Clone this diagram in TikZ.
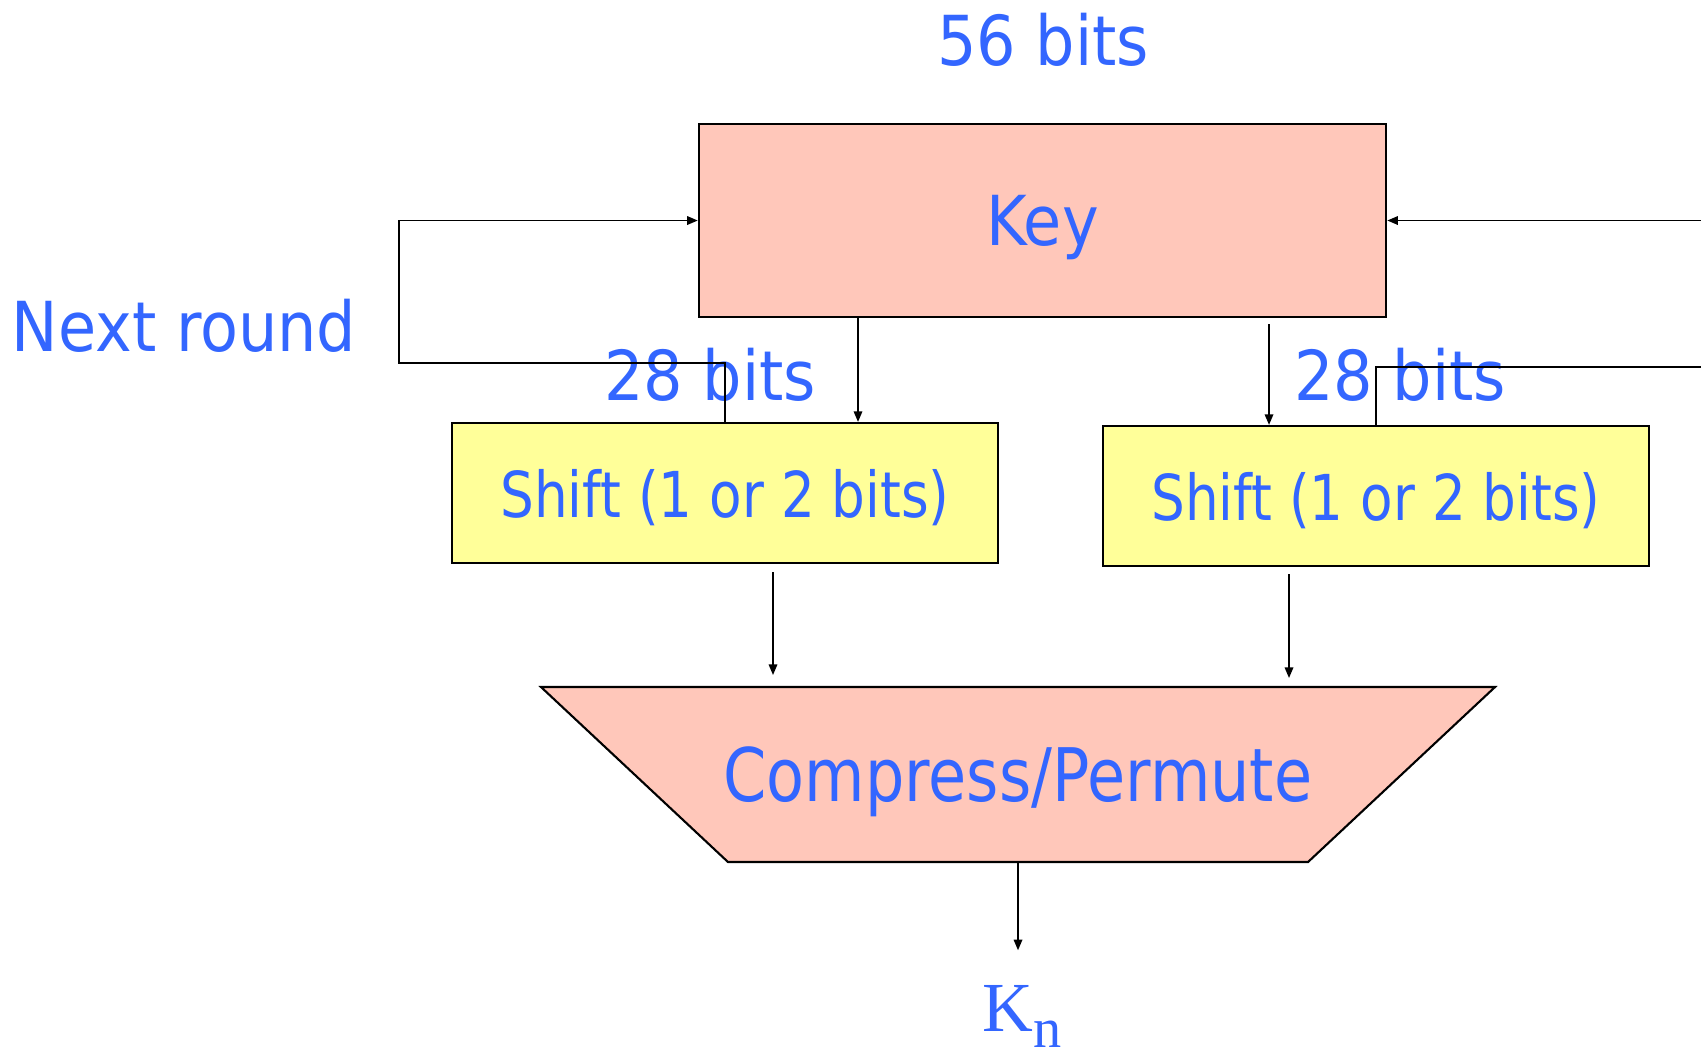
\documentclass[tikz,border=0pt]{standalone}
\usepackage{fontspec}
\setmainfont{DejaVu Sans}[FakeStretch=0.84]
\newfontfamily\lblfont{DejaVu Sans}[FakeStretch=0.9]
\newfontfamily\kfont{Liberation Serif}
\definecolor{labelblue}{RGB}{51, 102, 255}
\definecolor{keyfill}{RGB}{255, 199, 186}
\definecolor{shiftfill}{RGB}{255, 255, 153}
\usetikzlibrary{arrows.meta, positioning, calc}

\begin{document}
\begin{tikzpicture}[x=0.01cm, y=-0.01cm,
    box/.style={draw, line width=0.6pt, inner sep=0pt, text depth=0pt, text=labelblue},
    arr/.style={-{Triangle[length=3pt, width=2.4pt]}, line width=0.5pt},
    lbl/.style={text=labelblue, inner sep=0pt, anchor=base, font=\lblfont\fontsize{19.6}{22}\selectfont}]
    \useasboundingbox (0,0) rectangle (1701,1050);

    % Key and the two shift registers
    \node[box, fill=keyfill, minimum width=6.87cm, minimum height=1.93cm,
          font=\lblfont\fontsize{19.6}{22}\selectfont] (key) at (1042.5,220.5) {Key};
    \node[box, fill=shiftfill, minimum width=5.46cm, minimum height=1.40cm,
          font=\fontsize{18}{20}\selectfont] (shiftL) at (725,493) {Shift (1 or 2 bits)};
    \node[box, fill=shiftfill, minimum width=5.46cm, minimum height=1.40cm,
          font=\fontsize{18}{20}\selectfont] (shiftR) at (1376,496) {Shift (1 or 2 bits)};

    % Compression box
    \draw[line width=0.6pt, fill=keyfill] (541,687) -- (1495,687) -- (1308,862) -- (728,862) -- cycle;
    \node[text=labelblue, inner sep=0pt, text depth=0pt,
          font=\fontsize{21}{24}\selectfont] (comp) at (1018,774.5) {Compress/Permute};
    \coordinate (compOut) at (1018,862);

    % Labels
    \node[lbl] (bits56) at (1043,65) {56 bits};
    \node[lbl] (next) at (184,351) {Next round};
    \node[lbl] (bitsL) at (710,400) {28 bits};
    \node[lbl] (bitsR) at (1400,400) {28 bits};
    \node[text=labelblue, inner sep=0pt, anchor=base west] (kn) at (982,1031)
        {\kfont\fontsize{20}{20}\selectfont K\raisebox{-4.6pt}{\fontsize{16}{16}\selectfont n}};

    % Key halves down to the shifts
    \coordinate (tapL) at (858,0);
    \coordinate (tapR) at (1269,0);
    \draw[arr] (key.south -| tapL) -- (shiftL.north -| tapL);
    \draw[arr] ($(key.south -| tapR)+(0,6)$) -- (shiftR.north -| tapR);

    % Feedback for the next round
    \coordinate (backL) at (399,363);
    \coordinate (backR) at (1701,367);
    \coordinate (edgeR) at (1701,0);
    \draw[arr] (shiftL.north) |- (backL) |- (key.west);
    \draw[line width=0.5pt] (shiftR.north) |- (backR);
    \draw[arr] (key.east -| edgeR) -- (key.east);

    % Shifted halves into the compression, then out
    \coordinate (inL) at (773,675);
    \coordinate (inC) at (1289,678);
    \draw[arr] ($(shiftL.south -| inL)+(0,8)$) -- (inL);
    \draw[arr] ($(shiftR.south -| inC)+(0,7)$) -- (inC);
    \draw[arr] (compOut) -- ($(compOut |- kn.north)+(0,-34)$);
\end{tikzpicture}
\end{document}
